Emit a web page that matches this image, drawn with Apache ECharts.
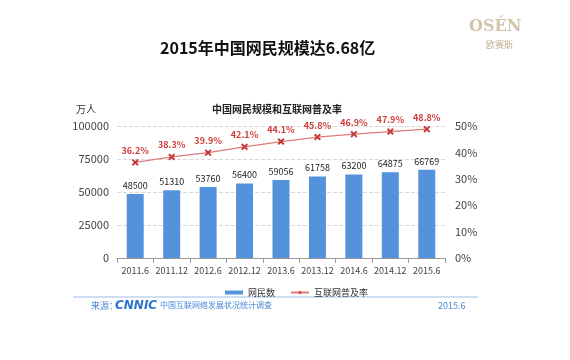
<!DOCTYPE html>
<html><head><meta charset="utf-8">
<script src="https://cdn.jsdelivr.net/npm/echarts@6/dist/echarts.min.js"></script>
<style>html,body{margin:0;padding:0;background:#fff}#c{width:570px;height:360px}</style>
</head><body><div id="c"></div>
<script>
const categories = ['2011.6','2011.12','2012.6','2012.12','2013.6','2013.12','2014.6','2014.12','2015.6'];
const netizens = [48500,51310,53760,56400,59056,61758,63200,64875,66769];
const penetration = [36.2,38.3,39.9,42.1,44.1,45.8,46.9,47.9,48.8];

const chart = echarts.init(document.getElementById('c'));
const F = '"Noto Sans CJK SC","Noto Sans",sans-serif';
const xPath = 'path://M2,0 L5,3 L8,0 L10,2 L7,5 L10,8 L8,10 L5,7 L2,10 L0,8 L3,5 L0,2Z';
chart.setOption({
  backgroundColor:'#fff',
  animation:false,
  textStyle:{fontFamily:F},
  title:[
    {text:'2015年中国网民规模达6.68亿', top:40, left:160, padding:0, textStyle:{fontSize:16, fontWeight:'bold', color:'#111', fontFamily:F}},
    {text:'中国网民规模和互联网普及率', left:212, top:104, padding:0, textStyle:{fontSize:10, fontWeight:'bold', color:'#222', fontFamily:F}},
    {text:'万人', left:76, top:104, padding:0, textStyle:{fontSize:10, fontWeight:'normal', color:'#333', fontFamily:F}}
  ],
  graphic:[
    {type:'text', left:469, top:19, style:{text:'OSÉN', font:'bold 16px "DejaVu Serif",serif', fill:'#d3c3a8'}},
    {type:'text', left:486, top:40, style:{text:'欧赛斯', font:'9px '+F, fill:'#c0b095'}},
    {type:'line', shape:{x1:73,y1:297,x2:478,y2:297}, style:{stroke:'#9dbde6', lineWidth:1}},
    {type:'text', left:91, top:301, style:{text:'来源：', font:'9px '+F, fill:'#4a88d6'}},
    {type:'text', left:115, top:300, style:{text:'CNNIC', font:'italic bold 12px "DejaVu Sans",sans-serif', fill:'#2f73c9'}},
    {type:'text', left:160, top:301, style:{text:'中国互联网络发展状况统计调查', font:'8px '+F, fill:'#4a88d6'}},
    {type:'text', left:438, top:301, style:{text:'2015.6', font:'9px '+F, fill:'#4a88d6'}}
  ],
  legend:{
    top:283, left:220, itemGap:15, itemWidth:18, itemHeight:4,
    textStyle:{fontSize:9, color:'#333', fontFamily:F},
    data:[{name:'网民数', icon:'rect'},{name:'互联网普及率'}]
  },
  grid:{left:117, right:125, top:126, bottom:102},
  xAxis:{
    type:'category', data:categories, boundaryGap:true,
    axisLine:{lineStyle:{color:'#999'}},
    axisTick:{show:true, lineStyle:{color:'#999'}},
    axisLabel:{fontSize:9, color:'#444', margin:8, interval:0}
  },
  yAxis:[
    {type:'value', min:0, max:100000, interval:25000,
     axisLine:{show:false}, axisTick:{show:false},
     splitLine:{lineStyle:{type:'dashed', color:'#d9d9d9'}},
     axisLabel:{fontSize:11, color:'#444', margin:8, formatter:v=>String(v)}},
    {type:'value', min:0, max:50, interval:10,
     axisLine:{show:false}, axisTick:{show:false}, splitLine:{show:false},
     axisLabel:{fontSize:11, color:'#444', margin:10, formatter:'{value}%'}}
  ],
  series:[
    {name:'网民数', type:'bar', data:netizens, barWidth:17,
     itemStyle:{color:'#5592dc'},
     label:{show:true, position:'top', distance:4, fontSize:9, color:'#222', fontFamily:F}},
    {name:'互联网普及率', type:'line', yAxisIndex:1, data:penetration,
     symbol:xPath, symbolSize:7,
     lineStyle:{color:'#e07a7a', width:1.2},
     itemStyle:{color:'#c23a3a'},
     label:{show:true, position:'top', distance:4, fontSize:9, fontWeight:'bold', color:'#d03b3b', formatter:p=>p.value+'%', fontFamily:F}}
  ]
});
</script></body></html>
